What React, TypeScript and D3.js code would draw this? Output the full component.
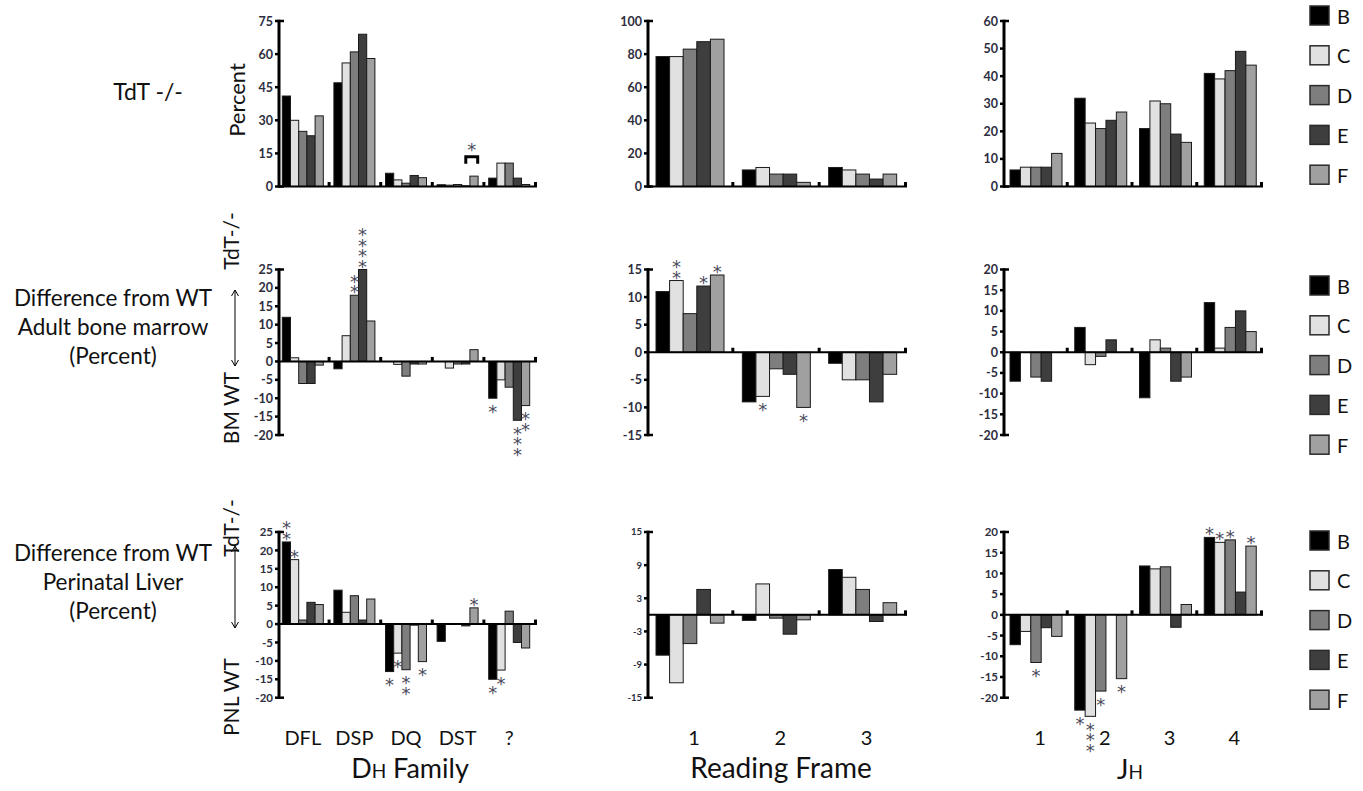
import React from 'react';
import * as d3 from 'd3';

const seriesNames = ['B', 'C', 'D', 'E', 'F'];
const seriesFills = ['#000000', '#e1e1e1', '#7e7e7e', '#3e3e3e', '#a0a0a0'];

const dhFamilies = ['DFL', 'DSP', 'DQ', 'DST', '?'];
const readingFrames = ['1', '2', '3'];
const jhSegments = ['1', '2', '3', '4'];

// Row 1: TdT-/- percent
const tdtDh = [[41, 30, 25, 23, 32], [47, 56, 61, 69, 58], [6, 3, 1.5, 5, 4], [0.8, 0.6, 0.9, 0.3, 4.7], [3.8, 10.6, 10.6, 3.8, 0.9]];
const tdtRf = [[78.5, 78.5, 83, 87.5, 89], [10, 11.5, 7.5, 7.5, 2.5], [11.5, 10, 7.5, 4.5, 7.5]];
const tdtJh = [[6, 7, 7, 7, 12], [32, 23, 21, 24, 27], [21, 31, 30, 19, 16], [41, 39, 42, 49, 44]];

// Row 2: difference from WT adult bone marrow
const bmDh = [[12, 1, -6, -6, -1], [-2, 7, 18, 25, 11], [0, -0.8, -4, -0.7, -0.7], [0, -1.8, -0.7, -0.7, 3.2], [-10, -5, -7, -16, -12]];
const bmRf = [[11, 13, 7, 12, 14], [-9, -8, -3, -4, -10], [-2, -5, -5, -9, -4]];
const bmJh = [[-7, 0, -6, -7, 0], [6, -3, -1, 3, 0], [-11, 3, 1, -7, -6], [12, 1, 6, 10, 5]];

// Row 3: difference from WT perinatal liver
const pnlDh = [[22.3, 17.5, 1.1, 5.9, 5.3], [9.2, 3.2, 7.7, 1.1, 6.8], [-12.9, -7.9, -12.4, -0.3, -10.2], [-4.7, 0, 0, -0.5, 4.4], [-15, -12.5, 3.5, -5, -6.5]];
const pnlRf = [[-7.3, -12.3, -5.2, 4.6, -1.5], [-1, 5.6, -0.6, -3.5, -0.9], [8.2, 6.8, 4.6, -1.2, 2.2]];
const pnlJh = [[-7.2, -4, -11.5, -3.1, -5.2], [-23, -24.5, -18.4, 0, -15.4], [11.8, 11.1, 11.6, -3, 2.5], [18.7, 17.5, 18.1, 5.5, 16.6]];

// Significance stars: [panel, group, series, count, direction]
const stars: [string, number, number, number, 'up' | 'down'][] = [
  ['bmDh', 1, 2, 2, 'up'], ['bmDh', 1, 3, 4, 'up'], ['bmDh', 4, 0, 1, 'down'], ['bmDh', 4, 3, 3, 'down'], ['bmDh', 4, 4, 2, 'down'],
  ['bmRf', 0, 1, 2, 'up'], ['bmRf', 0, 3, 1, 'up'], ['bmRf', 0, 4, 1, 'up'], ['bmRf', 1, 1, 1, 'down'], ['bmRf', 1, 4, 1, 'down'],
  ['pnlDh', 0, 0, 2, 'up'], ['pnlDh', 0, 1, 1, 'up'], ['pnlDh', 2, 0, 1, 'down'], ['pnlDh', 2, 1, 1, 'down'], ['pnlDh', 2, 2, 2, 'down'],
  ['pnlDh', 2, 4, 1, 'down'], ['pnlDh', 3, 4, 1, 'up'], ['pnlDh', 4, 0, 1, 'down'], ['pnlDh', 4, 1, 1, 'down'],
  ['pnlJh', 0, 2, 1, 'down'], ['pnlJh', 1, 0, 1, 'down'], ['pnlJh', 1, 1, 3, 'down'], ['pnlJh', 1, 2, 1, 'down'], ['pnlJh', 1, 4, 1, 'down'],
  ['pnlJh', 3, 0, 1, 'up'], ['pnlJh', 3, 1, 1, 'up'], ['pnlJh', 3, 2, 1, 'up'], ['pnlJh', 3, 4, 1, 'up'],
];
// bracket comparison in top-left panel
const bracket = { panel: 'tdtDh', group: 3, from: 3, to: 4, value: 13.5 };

const FONT = 'Lato, "Open Sans", sans-serif';

type Panel = {
  key: string; cats: string[]; values: number[][];
  x0: number; x1: number; yTop: number; yBot: number;
  domain: [number, number]; ticks: number[]; tickSize: number;
  barOff: number; barW: number; labelDx: number;
};

const colLayout = [
  { x0: 279, x1: 537, barOff: 3.3, barW: 8.2, labelDx: 0 },
  { x0: 648, x1: 907, barOff: 8, barW: 13.6, labelDx: 4 },
  { x0: 1004, x1: 1263, barOff: 6, barW: 10.4, labelDx: 4 },
];
const rowLayout = [
  { yTop: 21, yBot: 186.5 },
  { yTop: 269.5, yBot: 435 },
  { yTop: 532, yBot: 697.7 },
];

const mk = (key: string, cats: string[], values: number[][], r: number, c: number, domain: [number, number], ticks: number[], tickSize: number): Panel => ({
  key, cats, values, ...colLayout[c], ...rowLayout[r], domain, ticks, tickSize,
});

const panels: Panel[] = [
  mk('tdtDh', dhFamilies, tdtDh, 0, 0, [0, 75], [0, 15, 30, 45, 60, 75], 12.5),
  mk('tdtRf', readingFrames, tdtRf, 0, 1, [0, 100], [0, 20, 40, 60, 80, 100], 12.5),
  mk('tdtJh', jhSegments, tdtJh, 0, 2, [0, 60], [0, 10, 20, 30, 40, 50, 60], 12.5),
  mk('bmDh', dhFamilies, bmDh, 1, 0, [-20, 25], [-20, -15, -10, -5, 0, 5, 10, 15, 20, 25], 12.5),
  mk('bmRf', readingFrames, bmRf, 1, 1, [-15, 15], [-15, -10, -5, 0, 5, 10, 15], 12.5),
  mk('bmJh', jhSegments, bmJh, 1, 2, [-20, 20], [-20, -15, -10, -5, 0, 5, 10, 15, 20], 12.5),
  mk('pnlDh', dhFamilies, pnlDh, 2, 0, [-20, 25], [-20, -15, -10, -5, 0, 5, 10, 15, 20, 25], 11.5),
  mk('pnlRf', readingFrames, pnlRf, 2, 1, [-15, 15], [-15, -9, -3, 3, 9, 15], 9.5),
  mk('pnlJh', jhSegments, pnlJh, 2, 2, [-20, 20], [-20, -15, -10, -5, 0, 5, 10, 15, 20], 11.5),
];

const legendTops = [6, 276, 531];

function Star({ x, y }: { x: number; y: number }) {
  return (
    <text x={x} y={y + 10.5} textAnchor="middle" fontSize={18} fill="#4c4c5c" fontFamily='"DejaVu Sans", sans-serif'>*</text>
  );
}

function PanelView({ p }: { p: Panel }) {
  const y = d3.scaleLinear().domain(p.domain).range([p.yBot, p.yTop]);
  const gx = d3.scaleBand<string>().domain(p.cats).range([p.x0, p.x1]);
  const bx = d3.scaleBand<string>().domain(seriesNames).range([p.barOff, p.barOff + 5 * p.barW]);
  const y0 = y(0);
  const barX = (g: number, s: number) => (gx(p.cats[g]) as number) + (bx(seriesNames[s]) as number);
  const cx = (g: number, s: number) => barX(g, s) + p.barW / 2;
  const myStars = stars.filter((s) => s[0] === p.key);
  return (
    <g>
      {p.values.map((grp, g) =>
        grp.map((v, s) => (
          v === 0 ? null :
            <rect key={`${g}-${s}`} x={barX(g, s)} width={p.barW}
              y={Math.min(y(v), y0)} height={Math.abs(y(v) - y0)}
              fill={seriesFills[s]} stroke="#1a1a1a" strokeWidth={1} />
        )))}
      <line x1={p.x0} x2={p.x1} y1={y0} y2={y0} stroke="#000" strokeWidth={2} />
      {p.cats.map((c) => {
        const tx = (gx(c) as number) + gx.bandwidth() - 1.5;
        return <line key={c} x1={tx} x2={tx} y1={y0 - 4.5} y2={y0 + 0.5} stroke="#000" strokeWidth={3} />;
      })}
      <line x1={p.x0} x2={p.x0} y1={y(p.domain[1]) - 1.25} y2={y(p.domain[0]) + 1.25} stroke="#000" strokeWidth={3} />
      {p.ticks.map((t) => {
        const isEnd = t === p.domain[0] || t === p.domain[1];
        return (
          <g key={t}>
            <line x1={p.x0 - 4} x2={isEnd ? p.x0 + 5 : p.x0} y1={y(t)} y2={y(t)} stroke="#000" strokeWidth={2.5} />
            <text x={p.x0 - 6} y={y(t)} dy="0.36em" textAnchor="end" fontSize={p.tickSize}
              fontWeight={700} fill="#2e2e3e" fontFamily={FONT}>{t}</text>
          </g>
        );
      })}
      {myStars.map(([, g, s, n, dir], i) => {
        const v = p.values[g][s];
        return d3.range(n).map((k) => {
          const sy = dir === 'up' ? y(v) - 7.5 - k * 10.5 : y(v) + 9 + k * 10.5;
          return <Star key={`${i}-${k}`} x={cx(g, s)} y={sy} />;
        });
      })}
      {bracket.panel === p.key && (() => {
        const xa = cx(bracket.group, bracket.from);
        const xb = cx(bracket.group, bracket.to) + 3.7;
        const by = y(bracket.value);
        const leg = y(bracket.value - 3.2);
        return (
          <g>
            <path d={`M${xa},${leg} L${xa},${by} L${xb},${by} L${xb},${leg}`} fill="none" stroke="#000" strokeWidth={3} />
            <Star x={(xa + xb) / 2} y={by - 11} />
          </g>
        );
      })()}
    </g>
  );
}

function Legend({ top }: { top: number }) {
  return (
    <g>
      {seriesNames.map((s, i) => (
        <g key={s}>
          <rect x={1310} y={top + i * 39.8} width={19} height={19} fill={seriesFills[i]} stroke="#2a2a2a" strokeWidth={1.5} />
          <text x={1337} y={top + i * 39.8 + 17.5} fontSize={20} fill="#111" fontFamily={FONT}>{s}</text>
        </g>
      ))}
    </g>
  );
}

function DoubleArrow({ x, y1, y2 }: { x: number; y1: number; y2: number }) {
  return (
    <g stroke="#000" strokeWidth={1} fill="none">
      <line x1={x} x2={x} y1={y1} y2={y2} />
      <path d={`M${x - 3.5},${y1 + 6} L${x},${y1} L${x + 3.5},${y1 + 6}`} />
      <path d={`M${x - 3.5},${y2 - 6} L${x},${y2} L${x + 3.5},${y2 - 6}`} />
    </g>
  );
}

function RowLabel({ lines, top, arrowTop, arrowBot, upLabel, upY, downLabel, downY }:
  { lines: string[]; top: number; arrowTop: number; arrowBot: number; upLabel: string; upY: number; downLabel: string; downY: number }) {
  return (
    <g fontFamily={FONT} fill="#111">
      {lines.map((l, i) => (
        <text key={l} x={113} y={top + i * 29} textAnchor="middle" fontSize={22.5}>{l}</text>
      ))}
      <DoubleArrow x={235} y1={arrowTop} y2={arrowBot} />
      <text transform={`translate(239,${upY}) rotate(-90)`} textAnchor="middle" fontSize={21}>{upLabel}</text>
      <text transform={`translate(239,${downY}) rotate(-90)`} textAnchor="middle" fontSize={21}>{downLabel}</text>
    </g>
  );
}

export default function App() {
  const bottomPanels = panels.slice(6);
  return (
    <svg width={1363} height={791} style={{ position: 'absolute', left: 0, top: 0, display: 'block', background: '#fff' }}>
      <rect width={1363} height={791} fill="#fff" />
      {panels.map((p) => <PanelView key={p.key} p={p} />)}
      {legendTops.map((t) => <Legend key={t} top={t} />)}

      <text x={148} y={100} textAnchor="middle" fontSize={23} fontFamily={FONT} fill="#111">TdT -/-</text>
      <text transform="translate(245,100) rotate(-90)" textAnchor="middle" fontSize={22} fontFamily={FONT} fill="#111">Percent</text>

      <RowLabel lines={['Difference from WT', 'Adult bone marrow', '(Percent)']} top={306}
        arrowTop={290} arrowBot={366} upLabel="TdT-/-" upY={241} downLabel="BM WT" downY={408} />
      <RowLabel lines={['Difference from WT', 'Perinatal Liver', '(Percent)']} top={561}
        arrowTop={546} arrowBot={628} upLabel="TdT-/-" upY={528} downLabel="PNL WT" downY={697} />

      {bottomPanels.map((p) => {
        const gx = d3.scaleBand<string>().domain(p.cats).range([p.x0, p.x1]);
        return p.cats.map((c) => (
          <text key={p.key + c} x={(gx(c) as number) + p.barOff + 2.5 * p.barW + p.labelDx} y={745}
            textAnchor="middle" fontSize={20} fontFamily={FONT} fill="#111">{c}</text>
        ));
      })}

      <text x={410} y={778} textAnchor="middle" fontSize={27} fontFamily={FONT} fill="#111">
        <tspan>D</tspan><tspan fontSize={19}>H</tspan><tspan> Family</tspan>
      </text>
      <text x={781} y={778} textAnchor="middle" fontSize={28} fontFamily={FONT} fill="#111">Reading Frame</text>
      <text x={1130} y={779} textAnchor="middle" fontSize={27} fontFamily={FONT} fill="#111">
        <tspan>J</tspan><tspan fontSize={19}>H</tspan>
      </text>
    </svg>
  );
}
